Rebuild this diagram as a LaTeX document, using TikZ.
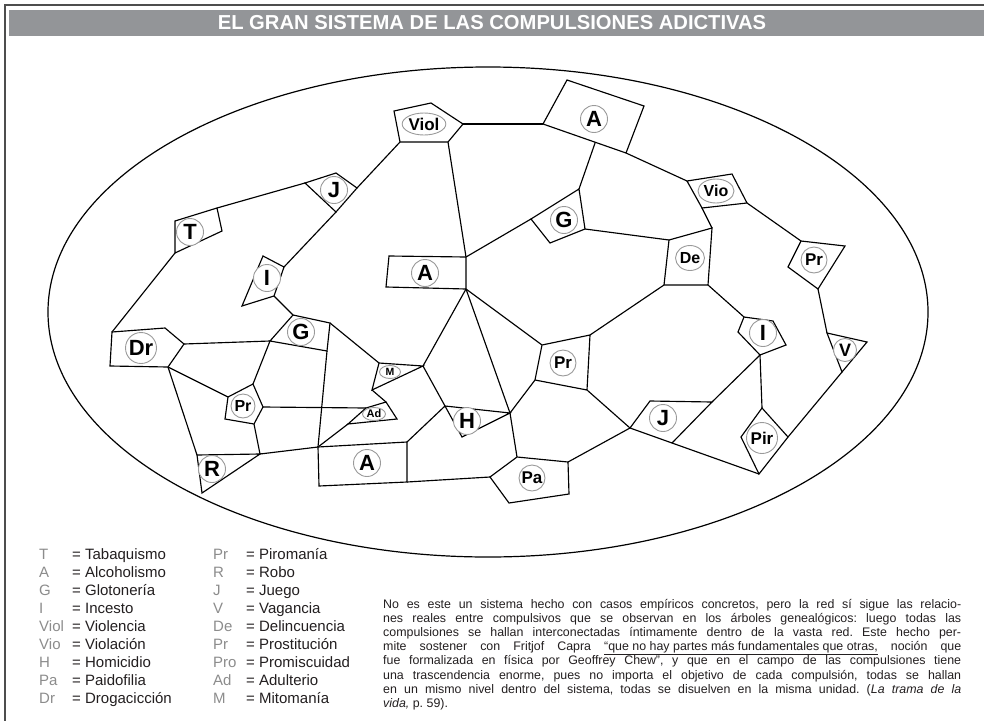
\documentclass[tikz,border=0pt]{standalone}
\usepackage{fontspec}
\setmainfont{Liberation Sans}
\usetikzlibrary{calc,shapes.geometric}
\definecolor{bargray}{HTML}{939598}
\definecolor{framegray}{HTML}{4D4D4D}
\definecolor{labgray}{HTML}{9A9A9A}
\definecolor{abgray}{HTML}{8C8C8C}
\definecolor{txt}{HTML}{231F20}
\frenchspacing
\begin{document}
\begin{tikzpicture}[x=1pt,y=-1pt,
  poly/.style={draw=black, line width=1.15pt, fill=white, line join=miter},
  link/.style={draw=black, line width=1.15pt},
  lab/.style={circle, draw=labgray, line width=0.9pt, fill=white, inner sep=0pt, minimum size=27pt, font=\bfseries\fontsize{22}{22}\selectfont},
  labm/.style={lab, font=\bfseries\fontsize{17}{17}\selectfont},
  labe/.style={ellipse, draw=labgray, line width=0.9pt, fill=white, inner sep=0pt},
  legab/.style={anchor=base west, inner sep=0pt, text=abgray, font=\fontsize{15}{17}\selectfont},
  legtx/.style={anchor=base west, inner sep=0pt, text=txt, font=\fontsize{15}{17}\selectfont},
  para/.style={anchor=base west, inner sep=0pt, text=txt, font=\fontsize{12.4}{14}\selectfont}
]
\useasboundingbox (0,0) rectangle (984,720);
\fill[white] (0,0) rectangle (984,720);
% frame and title bar
\draw[framegray, line width=1.6pt] (986,5) -- (5,5) -- (5,722);
\fill[bargray] (9,9.5) rectangle (986,36);
\node[anchor=base, inner sep=0pt, text=white, font=\bfseries\fontsize{20.2}{21}\selectfont] (title) at (492,29.8) {EL GRAN SISTEMA DE LAS COMPULSIONES ADICTIVAS};
% big ellipse
\draw[line width=1.2pt] (488,312) ellipse [x radius=440, y radius=245];

% ---- vertices ----
% Viol
\coordinate (v1) at (394,111); \coordinate (v2) at (431,103); \coordinate (v3) at (463,124); \coordinate (v4) at (448,142); \coordinate (v5) at (400,142);
% A top
\coordinate (a1) at (543,124); \coordinate (a2) at (567,80); \coordinate (a3) at (644,106); \coordinate (a4) at (626,153);
\coordinate (ab) at ($(a1)!0.63!(a4)$);
% Vio
\coordinate (vo1) at (687,181); \coordinate (vo2) at (732,174); \coordinate (vo3) at (747,203); \coordinate (vo4) at (702,208);
% J upper left
\coordinate (j1) at (305,183); \coordinate (j2) at (336,173); \coordinate (j3) at (357,188); \coordinate (j4) at (336,212);
% T
\coordinate (t1) at (175,221); \coordinate (t2) at (217,208); \coordinate (t3) at (222,231); \coordinate (t4) at (175,253);
% I left
\coordinate (i1) at (263,256); \coordinate (i2) at (284,267); \coordinate (i3) at (274,296); \coordinate (i4) at (242,306);
% A centre
\coordinate (ac1) at (389,256); \coordinate (ac2) at (466,257); \coordinate (ac3) at (466,289); \coordinate (ac4) at (386,287);
% G right
\coordinate (g1) at (531,219); \coordinate (g2) at (579,189); \coordinate (g3) at (585,229); \coordinate (g4) at (550,243);
% De
\coordinate (d1) at (669,240); \coordinate (d2) at (712,228); \coordinate (d3) at (708,285); \coordinate (d4) at (664,285);
% Pr right
\coordinate (p1) at (801,241); \coordinate (p2) at (845,246); \coordinate (p3) at (818,289); \coordinate (p4) at (788,267);
% I right
\coordinate (ir1) at (744,317); \coordinate (ir2) at (773,321); \coordinate (ir3) at (786,345); \coordinate (ir4) at (760,355); \coordinate (ir5) at (738,332);
% V
\coordinate (w1) at (827,333); \coordinate (w2) at (867,342); \coordinate (w3) at (842,372);
% Pir
\coordinate (pi1) at (762,408); \coordinate (pi2) at (788,437); \coordinate (pi3) at (759,474); \coordinate (pi4) at (741,437);
% J right
\coordinate (jr1) at (650,401); \coordinate (jr2) at (712,402); \coordinate (jr3) at (672,443); \coordinate (jr4) at (630,428);
% Pr centre
\coordinate (pc1) at (542,345); \coordinate (pc2) at (590,335); \coordinate (pc3) at (587,390); \coordinate (pc4) at (535,380);
% H
\coordinate (h1) at (445,406); \coordinate (h2) at (510,413); \coordinate (h3) at (462,437);
% Pa
\coordinate (pa1) at (490,477); \coordinate (pa2) at (517,457); \coordinate (pa3) at (568,462); \coordinate (pa4) at (569,494); \coordinate (pa5) at (509,503);
% A bottom
\coordinate (ab1) at (318,447); \coordinate (ab2) at (407,442); \coordinate (ab3) at (407,482); \coordinate (ab4) at (319,486);
% Ad
\coordinate (ad1) at (348,424); \coordinate (ad2) at (366,408); \coordinate (ad3) at (386,402); \coordinate (ad4) at (397,419);
% M
\coordinate (m1) at (379,363); \coordinate (m2) at (423,366); \coordinate (m3) at (372,390);
% G left
\coordinate (gl1) at (293,315); \coordinate (gl2) at (330,323); \coordinate (gl3) at (327,351); \coordinate (gl4) at (270,341);
% Dr
\coordinate (dr1) at (112,332); \coordinate (dr2) at (165,328); \coordinate (dr3) at (184,344); \coordinate (dr4) at (168,367); \coordinate (dr5) at (110,366);
% Pr left
\coordinate (pl1) at (228,397); \coordinate (pl2) at (253,384); \coordinate (pl3) at (263,407); \coordinate (pl4) at (254,424); \coordinate (pl5) at (225,419);
% R
\coordinate (r1) at (197,455); \coordinate (r2) at (260,454); \coordinate (r3) at (202,493);

% ---- connectors ----
\draw[link] (v3) -- (a1);
\draw[link] (v4) -- (ac2);
\draw[link] (v5) -- (j3);
\draw[link] (j1) -- (t2);
\draw[link] (j4) -- (i2);
\draw[link] (t4) -- (dr1);
\draw[link] (i3) -- (gl1);
\draw[link] (ac2) -- (g1);
\draw[link] (ab) -- (g2);
\draw[link] (a4) -- (vo1);
\draw[link] (vo4) -- (d2);
\draw[link] (vo3) -- (p1);
\draw[link] (g3) -- (d1);
\draw[link] (d4) -- (pc2);
\draw[link] (d3) -- (ir1);
\draw[link] (p3) -- (w1);
\draw[link] (ir4) -- (jr2);
\draw[link] (ir4) -- (pi1);
\draw[link] (w3) -- (pi2);
\draw[link] (jr3) -- (pi3);
\draw[link] (pc3) -- (jr4);
\draw[link] (pc4) -- (h2);
\draw[link] (ac3) -- (pc1);
\draw[link] (ac3) -- (h2);
\draw[link] (ac3) -- (m2);
\draw[link] (h2) -- (pa2);
\draw[link] (h1) -- (m2);
\draw[link] (h1) -- (ab2);
\draw[link] (pa3) -- (jr4);
\draw[link] (pa1) -- (ab3);
\draw[link] (gl2) -- (m1);
\draw[link] (m3) -- (ad3);
\draw[link] (gl3) -- (ab1);
\draw[link] (ab1) -- (ad1);
\draw[link] (pl3) -- (ad2);
\draw[link] (gl4) -- (dr3);
\draw[link] (gl4) -- (pl2);
\draw[link] (dr4) -- (pl1);
\draw[link] (dr4) -- (r1);
\draw[link] (pl4) -- (r2);
\draw[link] (r2) -- (ab1);

% ---- polygons ----
\draw[poly] (v1) -- (v2) -- (v3) -- (v4) -- (v5) -- cycle;
\draw[poly] (a1) -- (a2) -- (a3) -- (a4) -- cycle;
\draw[poly] (vo1) -- (vo2) -- (vo3) -- (vo4) -- cycle;
\draw[poly] (j1) -- (j2) -- (j3) -- (j4) -- cycle;
\draw[poly] (t1) -- (t2) -- (t3) -- (t4) -- cycle;
\draw[poly] (i1) -- (i2) -- (i3) -- (i4) -- cycle;
\draw[poly] (ac1) -- (ac2) -- (ac3) -- (ac4) -- cycle;
\draw[poly] (g1) -- (g2) -- (g3) -- (g4) -- cycle;
\draw[poly] (d1) -- (d2) -- (d3) -- (d4) -- cycle;
\draw[poly] (p1) -- (p2) -- (p3) -- (p4) -- cycle;
\draw[poly] (ir1) -- (ir2) -- (ir3) -- (ir4) -- (ir5) -- cycle;
\draw[poly] (w1) -- (w2) -- (w3) -- cycle;
\draw[poly] (pi1) -- (pi2) -- (pi3) -- (pi4) -- cycle;
\draw[poly] (jr1) -- (jr2) -- (jr3) -- (jr4) -- cycle;
\draw[poly] (pc1) -- (pc2) -- (pc3) -- (pc4) -- cycle;
\draw[poly] (h1) -- (h2) -- (h3) -- cycle;
\draw[poly] (pa1) -- (pa2) -- (pa3) -- (pa4) -- (pa5) -- cycle;
\draw[poly] (ab1) -- (ab2) -- (ab3) -- (ab4) -- cycle;
\draw[poly] (ad1) -- (ad2) -- (ad3) -- (ad4) -- cycle;
\draw[poly] (m1) -- (m2) -- (m3) -- cycle;
\draw[poly] (gl1) -- (gl2) -- (gl3) -- (gl4) -- cycle;
\draw[poly] (dr1) -- (dr2) -- (dr3) -- (dr4) -- (dr5) -- cycle;
\draw[poly] (pl1) -- (pl2) -- (pl3) -- (pl4) -- (pl5) -- cycle;
\draw[poly] (r1) -- (r2) -- (r3) -- cycle;

% ---- labels ----
\node[labe, minimum width=40pt, minimum height=22pt, font=\bfseries\fontsize{17}{17}\selectfont] (nViol) at (424,124) {Viol};
\node[lab] (nAtop) at (594,119) {A};
\node[labe, minimum width=36pt, minimum height=24pt, font=\bfseries\fontsize{16}{16}\selectfont] (nVio) at (716,191) {Vio};
\node[lab] (nJ1) at (334,190) {J};
\node[lab] (nT) at (190,232) {T};
\node[lab] (nI1) at (267,278) {I};
\node[lab] (nAc) at (425,273) {A};
\node[lab] (nG2) at (564,220) {G};
\node[labe, minimum width=27pt, minimum height=25pt, font=\bfseries\fontsize{16}{16}\selectfont] (nDe) at (690,258) {De};
\node[labm, minimum size=26pt] (nPr3) at (814,260) {Pr};
\node[lab] (nI2) at (763,333) {I};
\node[lab, minimum size=23pt, font=\bfseries\fontsize{18}{18}\selectfont] (nV) at (845,350) {V};
\node[labm, minimum size=31pt] (nPir) at (762,438) {Pir};
\node[lab] (nJ2) at (663,418) {J};
\node[labm, minimum size=26pt] (nPr2) at (563,363) {Pr};
\node[lab, minimum size=27pt] (nH) at (467,421) {H};
\node[labm, minimum size=26pt] (nPa) at (532,478) {Pa};
\node[lab, minimum size=27pt] (nAb) at (367,463) {A};
\node[labe, minimum width=23pt, minimum height=13pt, font=\bfseries\fontsize{11}{11}\selectfont] (nAd) at (374,414) {Ad};
\node[labe, minimum width=21pt, minimum height=13pt, font=\bfseries\fontsize{10.5}{10.5}\selectfont] (nM) at (390,372) {M};
\node[lab] (nG1) at (301,332) {G};
\node[lab, minimum size=31pt] (nDr) at (141,348) {Dr};
\node[labm, minimum size=24pt, font=\bfseries\fontsize{16}{16}\selectfont] (nPr1) at (243,406) {Pr};
\node[lab] (nR) at (212,469) {R};

% ---- legend ----
\foreach \ab/\nm [count=\k] in {T/Tabaquismo, A/Alcoholismo, G/Glotonería, I/Incesto, Viol/Violencia, Vio/Violación, H/Homicidio, Pa/Paidofilia, Dr/Drogacicción} {
  \node[legab] (la\k) at (39,{559+18*(\k-1)}) {\ab};
  \node[legtx] (le\k) at (72,{559+18*(\k-1)}) {= \nm};
}
\foreach \ab/\nm [count=\k] in {Pr/Piromanía, R/Robo, J/Juego, V/Vagancia, De/Delincuencia, Pr/Prostitución, Pro/Promiscuidad, Ad/Adulterio, M/Mitomanía} {
  \node[legab] (lb\k) at (213,{559+18*(\k-1)}) {\ab};
  \node[legtx] (lf\k) at (246,{559+18*(\k-1)}) {= \nm};
}

% ---- paragraph ----
\def\pw{578pt}
\node[para] (q1) at (383,608) {\makebox[\pw][s]{No es este un sistema hecho con casos empíricos concretos, pero la red sí sigue las relacio-}};
\node[para] (q2) at (383,622.2) {\makebox[\pw][s]{nes reales entre compulsivos que se observan en los árboles genealógicos: luego todas las}};
\node[para] (q3) at (383,636.4) {\makebox[\pw][s]{compulsiones se hallan interconectadas íntimamente dentro de la vasta red. Este hecho per-}};
\node[para] (q4) at (383,650.6) {\makebox[\pw][s]{mite sostener con Fritjof Capra \underline{“que no hay partes más fundamentales que otras,} noción que}};
\node[para] (q5) at (383,664.8) {\makebox[\pw][s]{fue formalizada en física por Geoffrey Chew”, y que en el campo de las compulsiones tiene}};
\node[para] (q6) at (383,679) {\makebox[\pw][s]{una trascendencia enorme, pues no importa el objetivo de cada compulsión, todas se hallan}};
\node[para] (q7) at (383,693.2) {\makebox[\pw][s]{en un mismo nivel dentro del sistema, todas se disuelven en la misma unidad. (\textit{La trama de la}}};
\node[para] (q8) at (383,707.4) {\textit{vida,} p. 59).};
\end{tikzpicture}
\end{document}
